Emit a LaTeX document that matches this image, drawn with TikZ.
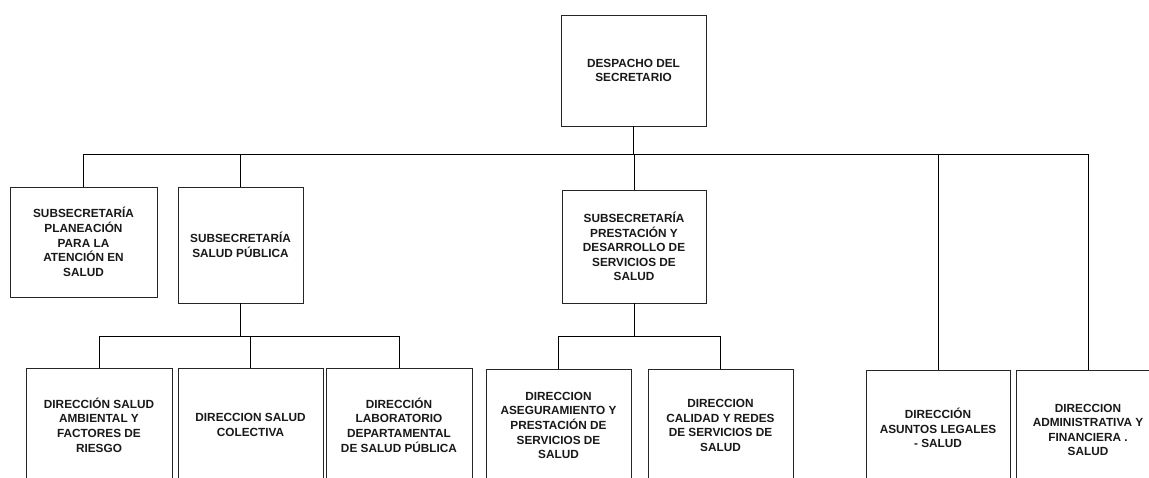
\documentclass[tikz,border=0pt]{standalone}
\usepackage{fontspec}
\setmainfont{Liberation Sans}
\begin{document}
\begin{tikzpicture}[x=1pt,y=-1pt,
  orgbox/.style={draw=black!85, line width=0.7pt, align=center, inner sep=0pt,
    font=\bfseries\fontsize{11.8}{14.6}\selectfont, text=black!90, rectangle},
  link/.style={draw=black, line width=0.9pt}]
\useasboundingbox[fill=white] (0,0) rectangle (1149,478);
\begin{scope}
\clip (0,0) rectangle (1149,478);
\node[orgbox, minimum width=145, minimum height=111] (top) at (633.5,70.5) {DESPACHO DEL\\SECRETARIO};
\node[orgbox, minimum width=147, minimum height=110] (sp) at (83.5,242) {SUBSECRETARÍA\\PLANEACIÓN\\PARA LA\\ATENCIÓN EN\\SALUD};
\node[orgbox, minimum width=125, minimum height=116] (ssp) at (240.5,245) {SUBSECRETARÍA\\SALUD PÚBLICA};
\node[orgbox, minimum width=144, minimum height=113] (spd) at (634,246.5) {SUBSECRETARÍA\\PRESTACIÓN Y\\DESARROLLO DE\\SERVICIOS DE\\SALUD};
\node[orgbox, minimum width=146, minimum height=114] (A) at (99,425) {DIRECCIÓN SALUD\\AMBIENTAL Y\\FACTORES DE\\RIESGO};
\node[orgbox, minimum width=145, minimum height=114] (B) at (250.5,425) {DIRECCION SALUD\\COLECTIVA};
\node[orgbox, minimum width=146, minimum height=114] (C) at (399,425) {DIRECCIÓN\\LABORATORIO\\DEPARTAMENTAL\\DE SALUD PÚBLICA};
\node[orgbox, minimum width=145, minimum height=113] (D) at (558.5,425.5) {DIRECCION\\ASEGURAMIENTO Y\\PRESTACIÓN DE\\SERVICIOS DE\\SALUD};
\node[orgbox, minimum width=145, minimum height=113] (E) at (720.5,425.5) {DIRECCION\\CALIDAD Y REDES\\DE SERVICIOS DE\\SALUD};
\node[orgbox, minimum width=144, minimum height=116] (F) at (938,428) {DIRECCIÓN\\ASUNTOS LEGALES\\- SALUD};
\node[orgbox, minimum width=144, minimum height=120] (G) at (1088,430) {DIRECCION\\ADMINISTRATIVA Y\\FINANCIERA .\\SALUD};
\coordinate (t) at (0,154);
\coordinate (u) at (0,336);
\draw[link] (top.south) -- (top.south |- t);
\draw[link] (sp.north |- t) -- (G.north |- t);
\foreach \n in {sp,ssp,spd,F,G} \draw[link] (\n.north |- t) -- (\n.north);
\draw[link] (ssp.south) -- (ssp.south |- u);
\draw[link] (A.north |- u) -- (C.north |- u);
\foreach \n in {A,B,C} \draw[link] (\n.north |- u) -- (\n.north);
\draw[link] (spd.south) -- (spd.south |- u);
\draw[link] (D.north |- u) -- (E.north |- u);
\foreach \n in {D,E} \draw[link] (\n.north |- u) -- (\n.north);
\end{scope}
\end{tikzpicture}
\end{document}
